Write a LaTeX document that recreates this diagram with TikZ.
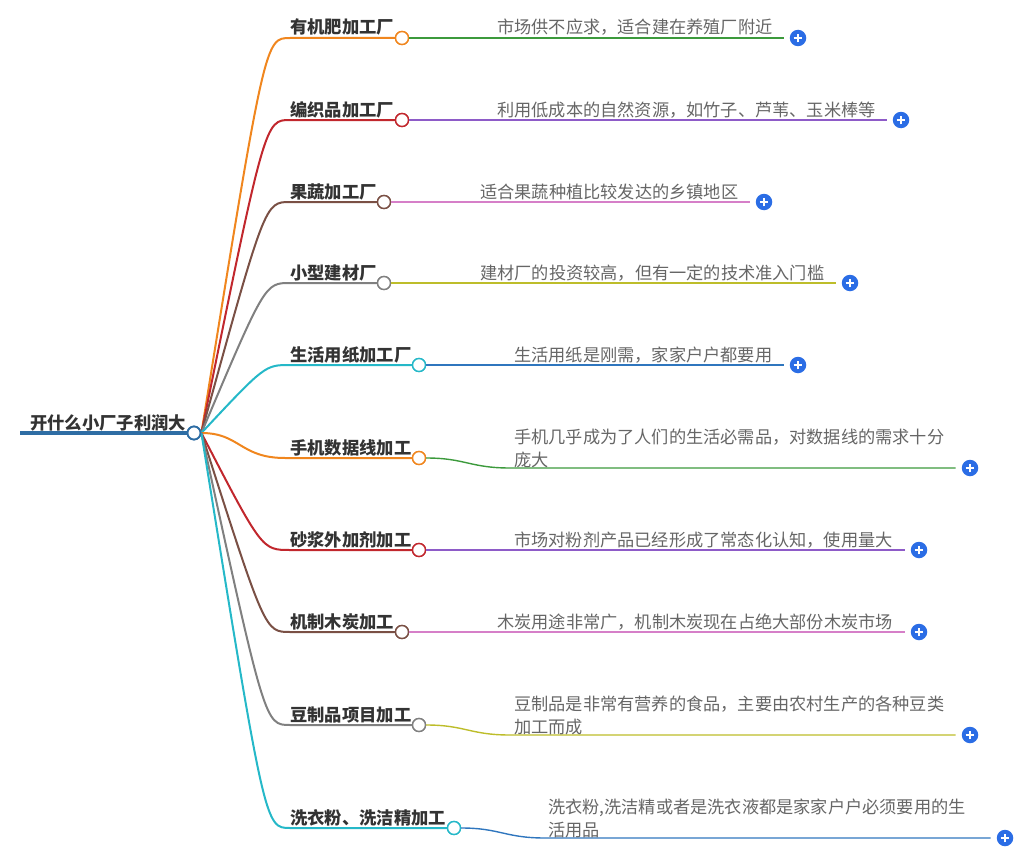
\documentclass[tikz,border=0pt]{standalone}
\usepackage{fontspec}
\setmainfont{Noto Sans CJK SC}
\definecolor{rootblue}{HTML}{2E6DA4}
\definecolor{corange}{HTML}{F0861E}
\definecolor{cred}{HTML}{C1272D}
\definecolor{cbrown}{HTML}{7A5045}
\definecolor{cgray}{HTML}{808080}
\definecolor{ccyan}{HTML}{25B8C8}
\definecolor{cgreen}{HTML}{3C9A3C}
\definecolor{cpurple}{HTML}{8E5BC8}
\definecolor{cpink}{HTML}{D67FC8}
\definecolor{colive}{HTML}{BDBD2A}
\definecolor{cblue}{HTML}{2F76BE}
\definecolor{plusblue}{HTML}{2B6DE5}
\definecolor{labeltext}{HTML}{333333}
\definecolor{leaftext}{HTML}{666666}
\tikzset{
  bcirc/.style={circle, fill=white, line width=1.4pt, minimum size=13pt, inner sep=0pt},
  branch/.style={line width=2pt},
  leafline/.style={line width=1.4pt, shorten >=6pt},
  blabel/.style={anchor=base west, inner sep=0pt, text=labeltext, font=\fontsize{17.3}{21}\selectfont\bfseries},
  leaftxt/.style={anchor=base west, inner sep=0pt, text=leaftext, align=left, font=\fontsize{17.2}{22.5}\selectfont},
  plusicon/.style={circle, fill=plusblue, minimum size=16.5pt, inner sep=0pt,
    path picture={
      \draw[white, line width=1.8pt] ([xshift=-4.3pt]path picture bounding box.center) -- ([xshift=4.3pt]path picture bounding box.center);
      \draw[white, line width=1.8pt] ([yshift=-4.3pt]path picture bounding box.center) -- ([yshift=4.3pt]path picture bounding box.center);
    }},
}
\begin{document}
\begin{tikzpicture}[x=1pt, y=-1pt]
\useasboundingbox (0,0) rectangle (1034,859);
% root
\draw[rootblue, line width=4pt] (20,433) -- (190,433);
\node[anchor=base west, inner sep=0pt, text=labeltext, font=\fontsize{17.3}{21}\selectfont\bfseries] (roottext) at (30,429) {开什么小厂子利润大};
\node[bcirc, draw=rootblue, line width=1.8pt] (root) at (194,433) {};

% branch circles
\node[bcirc, draw=corange] (b1) at (402,38) {};
\node[bcirc, draw=cred] (b2) at (402,120) {};
\node[bcirc, draw=cbrown] (b3) at (384,202) {};
\node[bcirc, draw=cgray] (b4) at (384,283) {};
\node[bcirc, draw=ccyan] (b5) at (419,365) {};
\node[bcirc, draw=corange] (b6) at (419,458) {};
\node[bcirc, draw=cred] (b7) at (419,550) {};
\node[bcirc, draw=cbrown] (b8) at (402,632) {};
\node[bcirc, draw=cgray] (b9) at (419,725) {};
\node[bcirc, draw=ccyan] (b10) at (454,828) {};

% branch curves
\draw[branch, corange] (root.east) .. controls (265,38) .. (290,38) -- (b1.west);
\draw[branch, cred] (root.east) .. controls (265,120) .. (290,120) -- (b2.west);
\draw[branch, cbrown] (root.east) .. controls (265,202) .. (290,202) -- (b3.west);
\draw[branch, cgray] (root.east) .. controls (265,283) .. (290,283) -- (b4.west);
\draw[branch, ccyan] (root.east) .. controls (265,365) .. (290,365) -- (b5.west);
\draw[branch, corange] (root.east) .. controls (240,433) and (240,458) .. (285,458) -- (b6.west);
\draw[branch, cred] (root.east) .. controls (262,550) .. (290,550) -- (b7.west);
\draw[branch, cbrown] (root.east) .. controls (265,632) .. (290,632) -- (b8.west);
\draw[branch, cgray] (root.east) .. controls (265,725) .. (290,725) -- (b9.west);
\draw[branch, ccyan] (root.east) .. controls (265,828) .. (290,828) -- (b10.west);

% redraw circles on top
\node[bcirc, draw=rootblue, line width=1.8pt] at (root) {};
\node[bcirc, draw=corange] at (b1) {};
\node[bcirc, draw=cred] at (b2) {};
\node[bcirc, draw=cbrown] at (b3) {};
\node[bcirc, draw=cgray] at (b4) {};
\node[bcirc, draw=ccyan] at (b5) {};
\node[bcirc, draw=corange] at (b6) {};
\node[bcirc, draw=cred] at (b7) {};
\node[bcirc, draw=cbrown] at (b8) {};
\node[bcirc, draw=cgray] at (b9) {};
\node[bcirc, draw=ccyan] at (b10) {};

% branch labels
\node[blabel] (l1) at (290,34) {有机肥加工厂};
\node[blabel] (l2) at (290,116) {编织品加工厂};
\node[blabel] (l3) at (290,198) {果蔬加工厂};
\node[blabel] (l4) at (290,279) {小型建材厂};
\node[blabel] (l5) at (290,361) {生活用纸加工厂};
\node[blabel] (l6) at (290,454) {手机数据线加工};
\node[blabel] (l7) at (290,546) {砂浆外加剂加工};
\node[blabel] (l8) at (290,628) {机制木炭加工};
\node[blabel] (l9) at (290,721) {豆制品项目加工};
\node[blabel] (l10) at (290,824) {洗衣粉、洗洁精加工};

% plus icons
\node[plusicon] (p1) at (798,38) {};
\node[plusicon] (p2) at (901,120) {};
\node[plusicon] (p3) at (764,202) {};
\node[plusicon] (p4) at (850,283) {};
\node[plusicon] (p5) at (798,365) {};
\node[plusicon] (p6) at (970,468) {};
\node[plusicon] (p7) at (919,550) {};
\node[plusicon] (p8) at (919,632) {};
\node[plusicon] (p9) at (970,735) {};
\node[plusicon] (p10) at (1005,838) {};

% leaf lines
\draw[leafline, cgreen] (b1.east) -- (p1.west);
\draw[leafline, cpurple] (b2.east) -- (p2.west);
\draw[leafline, cpink] (b3.east) -- (p3.west);
\draw[leafline, colive] (b4.east) -- (p4.west);
\draw[leafline, cblue] (b5.east) -- (p5.west);
\draw[leafline, cgreen] (b6.east) .. controls (465,458) and (470,468) .. (510,468) -- (p6.west);
\draw[leafline, cpurple] (b7.east) -- (p7.west);
\draw[leafline, cpink] (b8.east) -- (p8.west);
\draw[leafline, colive] (b9.east) .. controls (465,725) and (470,735) .. (510,735) -- (p9.west);
\draw[leafline, cblue] (b10.east) .. controls (500,828) and (505,838) .. (545,838) -- (p10.west);

% leaf texts
\node[leaftxt] (t1) at (497,34) {市场供不应求，适合建在养殖厂附近};
\node[leaftxt] (t2) at (497,116) {利用低成本的自然资源，如竹子、芦苇、玉米棒等};
\node[leaftxt] (t3) at (480,198) {适合果蔬种植比较发达的乡镇地区};
\node[leaftxt] (t4) at (480,279) {建材厂的投资较高，但有一定的技术准入门槛};
\node[leaftxt] (t5) at (514,361) {生活用纸是刚需，家家户户都要用};
\node[leaftxt] (t6) at (514,466) {手机几乎成为了人们的生活必需品，对数据线的需求十分\\庞大};
\node[leaftxt] (t7) at (514,546) {市场对粉剂产品已经形成了常态化认知，使用量大};
\node[leaftxt] (t8) at (497,628) {木炭用途非常广，机制木炭现在占绝大部份木炭市场};
\node[leaftxt] (t9) at (514,733) {豆制品是非常有营养的食品，主要由农村生产的各种豆类\\加工而成};
\node[leaftxt] (t10) at (548,836) {洗衣粉,洗洁精或者是洗衣液都是家家户户必须要用的生\\活用品};
\end{tikzpicture}
\end{document}
